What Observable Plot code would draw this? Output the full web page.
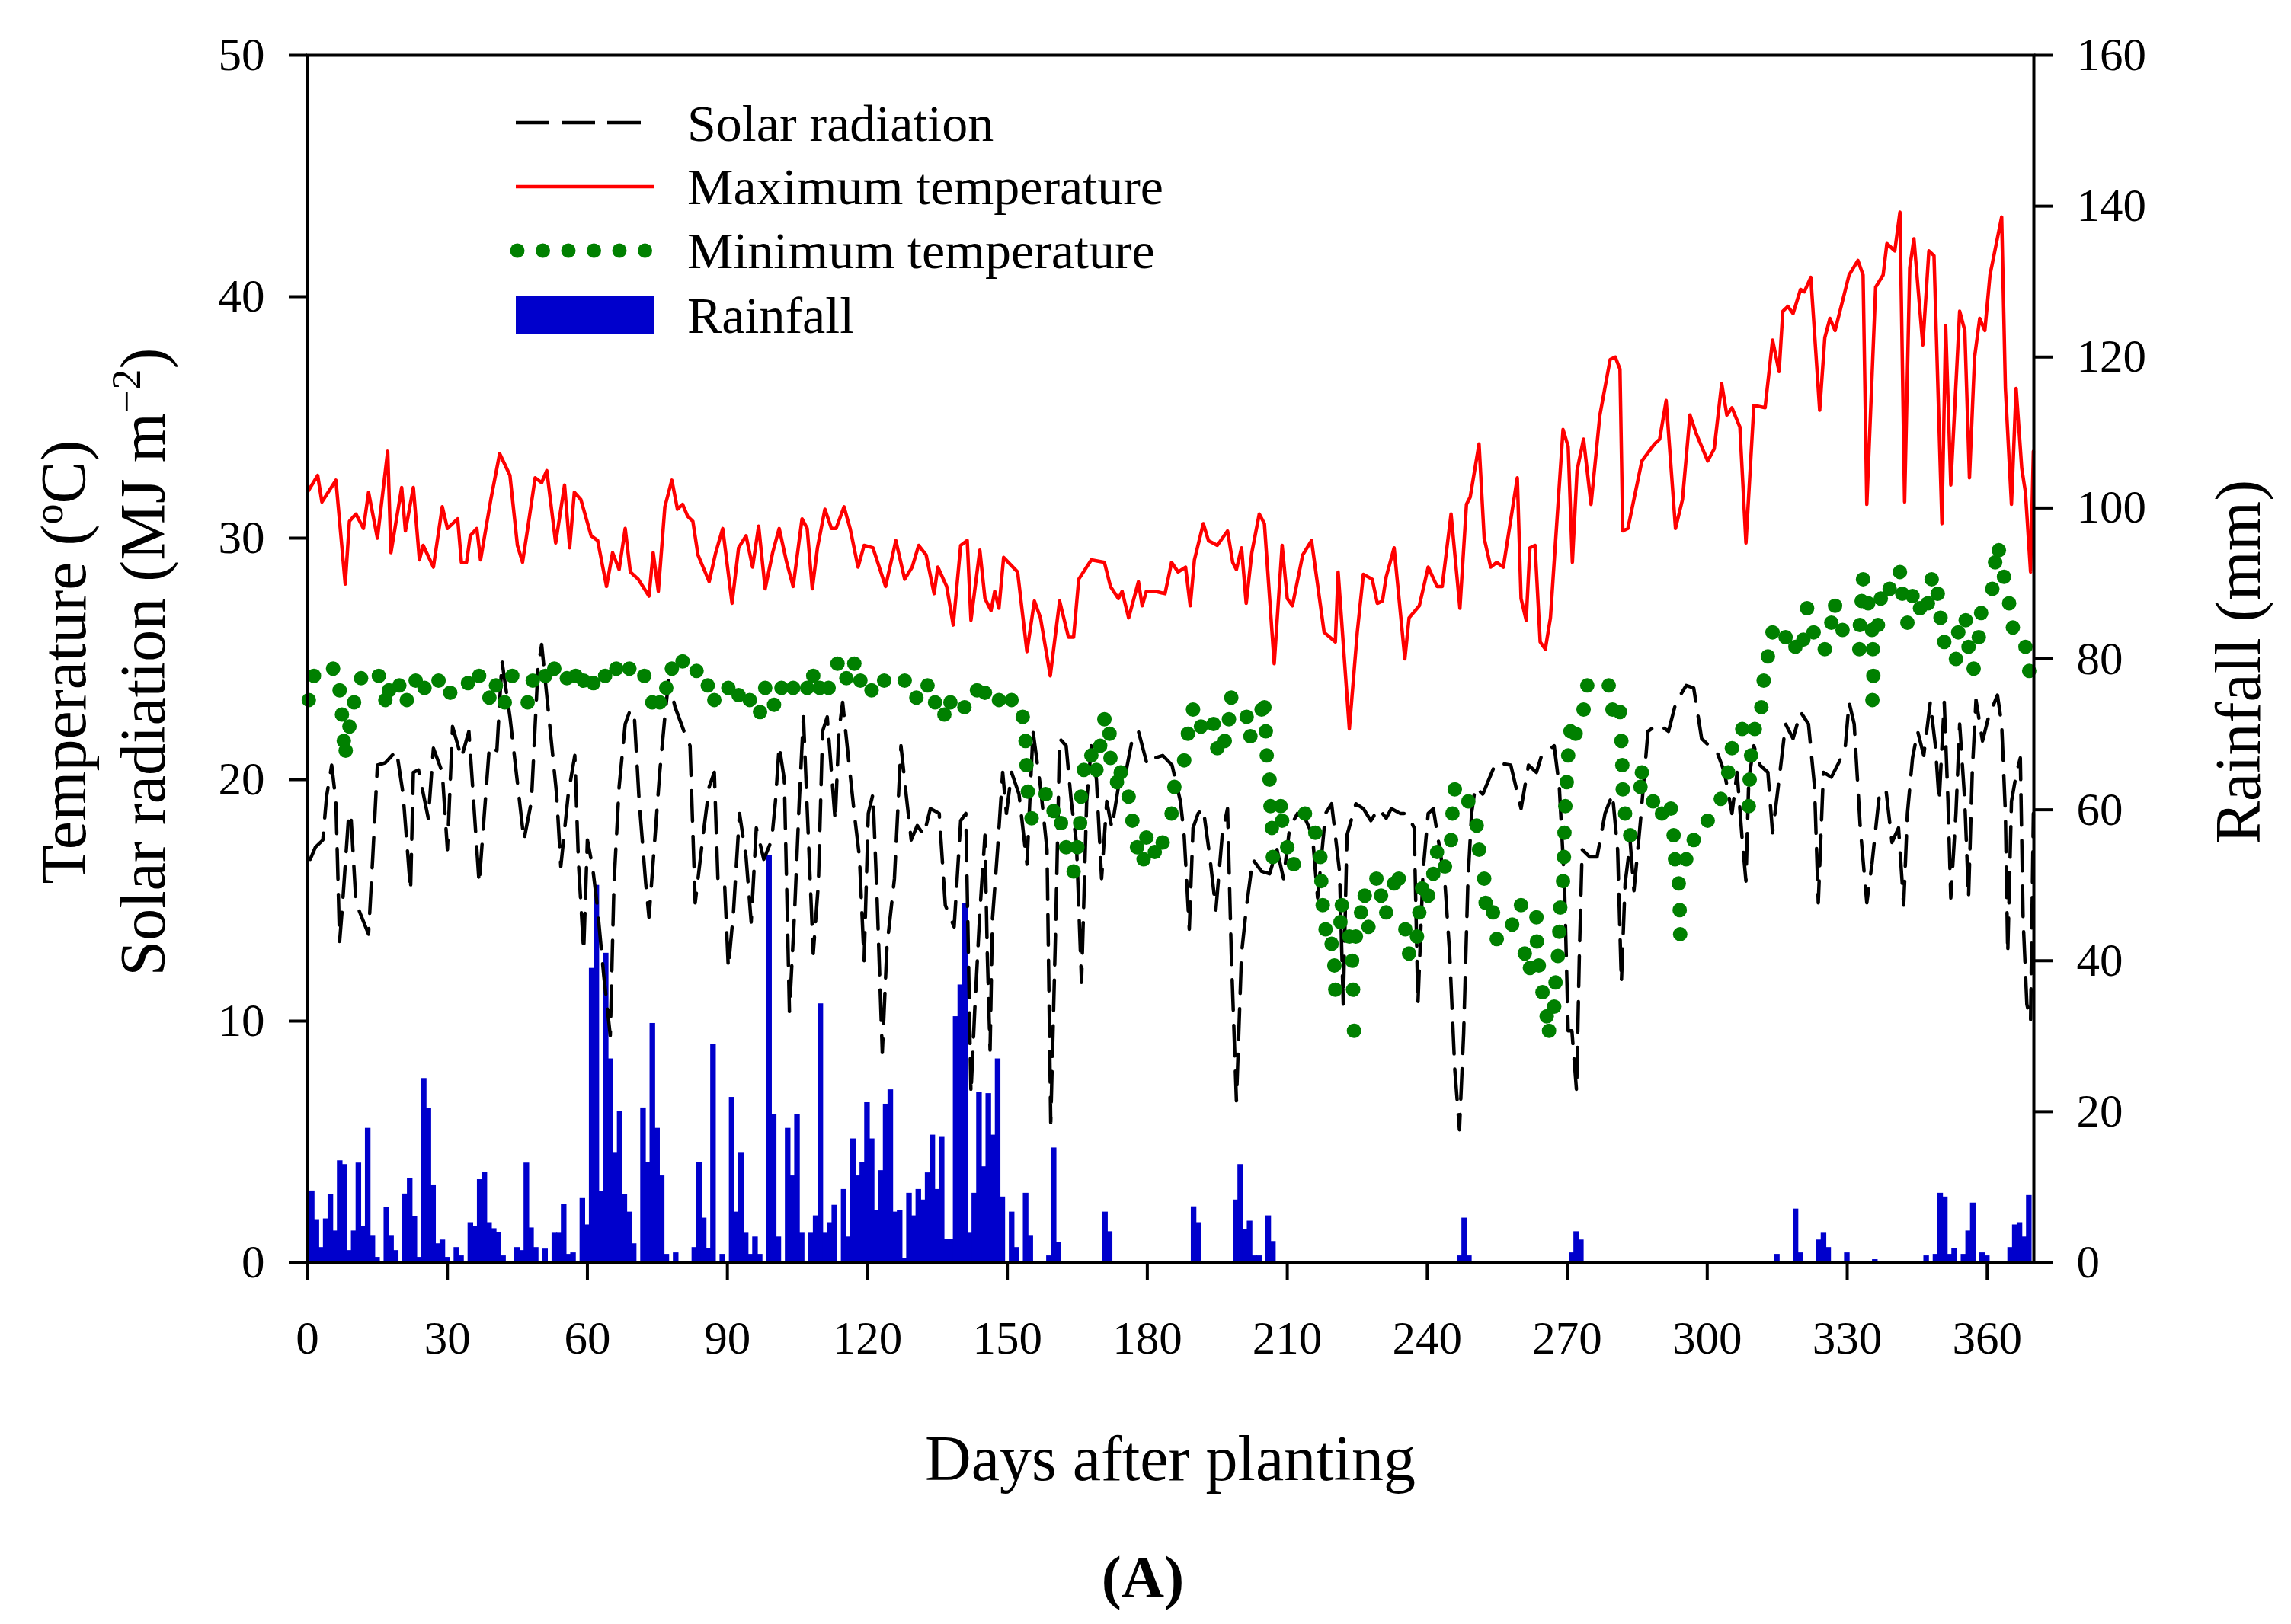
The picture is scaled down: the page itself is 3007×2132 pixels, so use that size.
<!DOCTYPE html>
<html>
<head>
<meta charset="utf-8">
<script src="https://cdn.jsdelivr.net/npm/d3@7"></script>
<script src="https://cdn.jsdelivr.net/npm/@observablehq/plot@0.6"></script>
<style>
  html, body { margin: 0; padding: 0; background: #fff; }
  #chart svg { display: block; }
</style>
</head>
<body>
<div id="chart"></div>
<script>
// ---------- data ----------
const xTicks = [0, 30, 60, 90, 120, 150, 180, 210, 240, 270, 300, 330, 360];
const tempTicks = [0, 10, 20, 30, 40, 50];
const rainTicks = [0, 20, 40, 60, 80, 100, 120, 140, 160];

// [day, °C]
const maxTemp = [[0,31.9],[2.2,32.6],[3.1,31.5],[6.1,32.4],[8.1,28.1],[9,30.7],[10.4,31],[12,30.4],[13.1,31.9],[15,30],[17.2,33.6],[17.9,29.4],[20.2,32.1],[21,30.3],[22.7,32.1],[24,29.1],[24.8,29.7],[27,28.8],[28.9,31.3],[30,30.4],[32.2,30.8],[33,29],[34.1,29],[34.9,30.1],[36.3,30.4],[37.1,29.1],[39.3,31.6],[41.2,33.5],[43.4,32.6],[45,29.7],[46.1,29],[47.2,30.4],[48.8,32.5],[50.2,32.3],[51.3,32.8],[53.2,29.8],[55.1,32.2],[56.2,29.6],[57.2,31.9],[58.6,31.6],[60.8,30.1],[62.2,29.9],[64.1,28],[65.4,29.4],[66.8,28.7],[68.1,30.4],[69.2,28.6],[70.9,28.3],[73.2,27.6],[74.1,29.4],[75.2,27.8],[76.6,31.3],[78.1,32.4],[79.3,31.2],[80.4,31.4],[81.5,30.9],[82.6,30.7],[83.7,29.3],[86.1,28.2],[87.5,29.4],[89,30.4],[91,27.3],[92.4,29.6],[94,30.1],[95.4,28.8],[96.7,30.5],[98.1,27.9],[99.7,29.4],[101.1,30.4],[102.7,29],[104.1,28],[106,30.8],[107.1,30.4],[108.2,27.9],[109.3,29.6],[110.9,31.2],[112.3,30.4],[113.3,30.4],[115,31.3],[116.3,30.4],[118,28.8],[119.3,29.7],[121.2,29.6],[123.9,28],[126.1,29.9],[128,28.3],[129.6,28.8],[131,29.7],[132.6,29.3],[134.3,27.7],[135.1,28.8],[137,28],[138.4,26.4],[140,29.7],[141.4,29.9],[142.2,26.6],[144.1,29.5],[145.2,27.5],[146.5,27],[147.3,27.8],[148.2,27.1],[149.2,29.2],[152.2,28.6],[154.2,25.3],[155.8,27.4],[157.1,26.7],[159.2,24.3],[161.2,27.4],[163.1,25.9],[164.2,25.9],[165.3,28.3],[168,29.1],[170.8,29],[172.1,28],[173.8,27.5],[174.6,27.8],[176,26.7],[178.1,28.2],[178.9,27.2],[179.8,27.8],[181.7,27.8],[183.8,27.7],[185.2,29],[186.6,28.6],[188.2,28.8],[189.2,27.2],[190.1,29.1],[192,30.6],[193.1,29.9],[195,29.7],[197.2,30.3],[198.3,29],[199.1,28.7],[200.2,29.6],[201.2,27.3],[202.4,29.4],[204,31],[205.1,30.6],[207.2,24.8],[208.9,29.7],[210,27.5],[211.1,27.2],[213.3,29.3],[215.2,29.9],[217.9,26.1],[220.3,25.7],[220.9,28.6],[223.3,22.1],[225,26.1],[226.3,28.5],[228.2,28.3],[229.3,27.3],[230.4,27.4],[231.2,28.4],[232.9,29.6],[235.2,25],[236.1,26.7],[238.3,27.2],[240.2,28.8],[242.1,28],[243.2,28],[245.1,31],[247,27.1],[248.4,31.4],[249.2,31.7],[251.1,33.9],[252.2,30],[253.6,28.8],[254.9,29],[256.3,28.8],[259.3,32.5],[260.1,27.5],[261.2,26.6],[262,29.6],[263.1,29.7],[264.2,25.7],[265.3,25.4],[266.4,26.7],[269.1,34.5],[270.2,33.8],[271.1,29],[272.1,32.8],[273.5,34.1],[275.1,31.4],[277,35.1],[279.2,37.4],[280.3,37.5],[281.3,37],[281.9,30.3],[283,30.4],[286,33.2],[288.7,33.9],[289.8,34.1],[291.2,35.7],[293.2,30.4],[294.7,31.6],[296.3,35.1],[297.7,34.3],[300.1,33.2],[301.5,33.7],[303.1,36.4],[304.2,35.1],[305.3,35.4],[307,34.6],[308.3,29.8],[310,35.5],[312.4,35.4],[314,38.2],[315.4,36.9],[316.2,39.4],[317.3,39.6],[318.4,39.3],[320,40.3],[320.8,40.2],[322.2,40.8],[324.1,35.3],[325.2,38.3],[326.3,39.1],[327.4,38.6],[330.4,40.9],[332.3,41.5],[333.4,40.9],[334.2,31.4],[336.1,40.4],[337.7,40.9],[338.5,42.2],[340.2,41.9],[341.3,43.5],[342.3,31.5],[343.4,41.2],[344.3,42.4],[346.2,38],[347.5,41.9],[348.6,41.7],[350.3,30.6],[351.1,38.8],[352.2,32.2],[354.1,39.4],[355.2,38.6],[356.2,32.5],[357.3,37.5],[358.4,39.1],[359.5,38.6],[360.6,40.9],[363.1,43.3],[363.9,36.2],[365.2,31.4],[366.2,36.2],[367.4,32.9],[368.2,31.9],[369.3,28.6],[369.9,33.6]];

// [day, MJ m-2]
const solarRad = [[0.6,16.7],[1.7,17.2],[3.3,17.5],[4.1,19.3],[5.2,20.6],[6.1,19.1],[6.9,13.3],[7.4,14.5],[8.8,18.4],[9.3,18.6],[10.4,14.9],[13.1,13.6],[14,16.8],[15,20.6],[16.7,20.7],[19.1,21.2],[20.5,19.4],[22.1,15.4],[22.7,20.3],[23.8,20.4],[25.9,18.4],[27,21.3],[28.9,20.3],[30,17.1],[31.1,22.2],[33,20.9],[34.6,22],[36.8,15.7],[39,21.4],[40.6,21.2],[41.7,24.9],[43.4,22.6],[46.4,17.5],[48,19.1],[49.4,24.6],[50.2,25.6],[51.8,22.5],[53.4,19.4],[54.3,16.4],[55.9,19.4],[57.3,21],[58.1,16.5],[59.2,12.9],[60,17.5],[61.1,16.4],[62.1,14.8],[63.5,11.9],[64.9,9.4],[65.7,15.7],[66.8,19.7],[68.1,22.3],[69.2,22.9],[70.1,22.5],[71.1,19.1],[72.5,15.7],[73.2,14.3],[74.4,17.4],[75.5,20.3],[76.6,22.6],[77.4,24.1],[78.8,23],[80.7,22],[82,21.4],[83.1,14.9],[84.8,17.7],[86.1,19.7],[87.2,20.3],[88,15.7],[89.4,15.7],[90.2,12.2],[91.3,14.5],[92.6,18.6],[94,16.8],[95.1,14.1],[96.2,18],[97.8,16.7],[99.5,17.5],[100.3,19.1],[101.1,21.4],[102.2,20],[103.3,10.4],[104.4,14.5],[105.4,19.1],[106.3,22.6],[107.1,18.8],[108.4,12.8],[109.5,15.7],[110.4,22],[111.4,22.6],[113.1,18.3],[113.9,22],[114.7,23.2],[116.1,20.6],[117.2,18.6],[118.3,16.8],[119.3,12.5],[120.2,18.6],[121.2,19.4],[122.1,15],[123.2,8.7],[124.2,13.1],[125.8,15.9],[127.2,21.4],[128.3,19.4],[129.4,17.5],[130.7,18.1],[132.1,17.7],[133.5,18.8],[135.4,18.6],[136.7,14.8],[138.6,13.9],[140,18.3],[141.1,18.6],[142.2,7],[143,10.4],[144.1,14.5],[145.2,17.7],[145.7,12.8],[146.3,8.8],[146.8,14.2],[147.9,17.1],[149,20.3],[149.8,18.6],[150.9,20.3],[152.5,19.4],[154.2,16.5],[155.5,22],[157.1,19.7],[158.5,17.1],[159.3,5.8],[160.4,14.2],[161.2,21.7],[162.6,21.4],[163.7,19.1],[164.8,17.4],[165.9,11.6],[167,19.1],[168,21.4],[169.1,20],[170.2,15.9],[171.3,19.1],[172.4,18],[173.8,19.7],[175.1,20],[176.8,21.7],[178.1,22],[180,20.6],[181.7,20.9],[183.3,21],[185.3,20.6],[187.1,19.1],[187.9,17.7],[189,13.8],[189.8,18],[190.9,18.6],[192,18.8],[193.4,16.8],[194.7,14.6],[196.1,17.8],[197.2,18.8],[198,12.8],[199.1,6.7],[200.2,12.8],[201.3,14.8],[202.6,16.7],[204.5,16.2],[206.2,16.1],[207.8,17.1],[209.2,15.9],[210.5,18],[212.2,18.6],[213.8,18.4],[215.4,17.7],[216.5,15.1],[218.2,18.6],[219.5,19],[221.2,16.2],[222,10.7],[222.8,17.7],[224.7,19],[226.3,18.8],[227.9,18.3],[229.6,18.8],[231.2,18.4],[232.3,18.8],[234.2,18.6],[235.6,18.6],[237.2,18],[238,10.7],[239.1,16.2],[240.2,18.6],[241.3,18.8],[242.7,17.1],[243.8,15.7],[244.8,12.8],[245.9,8],[246.9,5.5],[247.8,9.5],[248.7,15.7],[249.5,18.6],[250.3,19.7],[251.9,19.4],[254.7,20.7],[257.9,20.6],[260.1,18.8],[261.7,20.6],[263.4,20.3],[264.5,21],[267.2,21.4],[268.3,19.7],[269.4,15.7],[270.2,9.6],[271,9.6],[272,7.1],[272.6,12.8],[273.2,17.1],[274.8,16.8],[276.4,16.8],[278.1,18.6],[279.7,19.4],[280.8,17.1],[281.6,11.6],[282.4,15.7],[283.5,17.4],[284.3,15.4],[285.7,18.3],[287.3,22],[289.5,22.3],[291.7,22],[293.3,23.2],[295.5,23.9],[297.1,23.8],[298.8,21.7],[300.4,21.4],[302,21.2],[303.7,20.3],[305.3,18.6],[306.4,20.3],[307.5,17.5],[308.3,15.8],[308.9,20],[310,21.4],[311.3,20.6],[313,20.3],[314,17.8],[315.4,20],[316.8,22.3],[318.4,21.7],[320,22.8],[321.7,22.3],[323,19.7],[323.8,14.9],[324.9,20.3],[326.6,20.1],[328.2,20.7],[329.6,21.4],[330.4,23.2],[331.5,22.3],[332.8,18],[334.2,14.9],[335.3,16.5],[336.9,19.4],[338.3,19.6],[339.6,17.4],[341,18],[342.1,14.8],[342.9,18.6],[344,20.9],[345.1,22],[346.4,21],[347.8,23.2],[348.9,21.4],[349.7,19.1],[350.8,23.2],[351.6,19.1],[352.2,15.1],[353.3,18.6],[354.1,22.3],[355.2,19.1],[356,15.1],[356.8,20.3],[357.6,23.3],[359,21.6],[360.3,22.6],[362.2,23.5],[363.1,22.3],[363.9,18.6],[364.4,12.8],[365.2,19.1],[366.3,20.3],[367.1,20.9],[367.7,14.2],[368.5,10.7],[369.3,10],[369.9,18.6]];

// [day, °C]
const minTemp = [[0.3,23.3],[1.4,24.3],[5.5,24.6],[6.9,23.7],[7.4,22.7],[7.8,21.6],[8.2,21.2],[9,22.2],[10,23.2],[11.5,24.2],[15.3,24.3],[16.7,23.3],[17.5,23.7],[19.7,23.9],[21.3,23.3],[23.2,24.1],[25.1,23.8],[28.1,24.1],[30.6,23.6],[34.4,24],[36.8,24.3],[39,23.4],[40.4,23.9],[42.3,23.2],[43.9,24.3],[47.2,23.2],[48.3,24.1],[51,24.3],[52.9,24.6],[55.6,24.2],[57.5,24.3],[59.2,24.1],[61.3,24],[63.8,24.3],[66.2,24.6],[69,24.6],[72.2,24.3],[73.9,23.2],[75.5,23.2],[76.9,23.8],[78.1,24.6],[80.4,24.9],[83.4,24.5],[85.8,23.9],[87.2,23.3],[90.2,23.8],[92.4,23.5],[94.8,23.3],[97,22.8],[98.1,23.8],[100,23.1],[101.6,23.8],[104.1,23.8],[107.1,23.8],[108.4,24.3],[109.8,23.8],[111.7,23.8],[113.6,24.8],[115.5,24.2],[117.2,24.8],[118.5,24.1],[120.9,23.7],[123.6,24.1],[128,24.1],[130.5,23.4],[132.9,23.9],[134.5,23.2],[136.5,22.7],[137.8,23.2],[140.8,23],[143.5,23.7],[145.2,23.6],[148.2,23.3],[150.9,23.3],[153.3,22.6],[153.9,21.6],[154.1,20.6],[154.4,19.5],[155.2,18.4],[158.2,19.4],[159.9,18.7],[161.5,18.2],[162.6,17.2],[164.2,16.2],[165,17.2],[165.6,18.2],[165.8,19.3],[166.4,20.4],[168,21],[169.1,20.4],[169.9,21.4],[170.8,22.5],[171.9,21.9],[172.1,20.9],[173.5,19.9],[174.3,20.3],[176,19.3],[176.8,18.3],[177.8,17.2],[179.2,16.7],[179.8,17.6],[181.6,17],[183.3,17.4],[185.2,18.6],[185.8,19.7],[187.9,20.8],[188.7,21.9],[189.8,22.9],[191.5,22.2],[194.2,22.3],[195,21.3],[196.6,21.6],[197.5,22.5],[198,23.4],[201.3,22.6],[202.1,21.8],[204.5,22.9],[205.1,23],[205.4,22],[205.6,21],[206.2,20],[206.4,18.9],[206.7,18],[206.9,16.8],[208.6,18.9],[208.9,18.3],[210,17.2],[211.4,16.5],[213.8,18.6],[216,17.8],[217.1,16.8],[217.3,15.8],[217.6,14.8],[218.2,13.8],[219.5,13.2],[220.1,12.3],[220.3,11.3],[221.4,14.1],[221.7,14.8],[223.3,13.5],[223.9,12.5],[224.1,11.3],[224.3,9.6],[224.7,13.5],[225.8,14.5],[226.6,15.2],[227.4,13.9],[229.1,15.9],[230.1,15.2],[231.2,14.5],[232.9,15.7],[233.9,15.9],[235.3,13.8],[236.1,12.8],[237.8,13.5],[238.3,14.5],[238.9,15.5],[240.2,15.2],[241.3,16.1],[242.1,17],[243.8,16.4],[245.1,17.5],[245.4,18.6],[245.9,19.6],[248.8,19.1],[250.6,18.1],[251.1,17.1],[252.2,15.9],[252.5,14.9],[254.1,14.5],[254.9,13.4],[258.2,14],[260.1,14.8],[260.9,12.8],[262,12.2],[263.4,14.3],[263.5,13.3],[263.9,12.3],[264.7,11.2],[265.6,10.2],[266.1,9.6],[267.2,10.6],[267.5,11.6],[268,12.7],[268.3,13.7],[268.5,14.7],[269.1,15.8],[269.3,16.8],[269.4,17.8],[269.6,18.9],[269.9,19.9],[270.2,21],[270.7,22],[271.8,21.9],[273.5,22.9],[274.3,23.9],[278.9,23.9],[279.7,22.9],[281.3,22.8],[281.6,21.6],[281.8,20.6],[281.9,19.6],[282.4,18.6],[283.5,17.7],[285.7,19.7],[286,20.3],[288.4,19.1],[290.3,18.6],[292.2,18.8],[292.8,17.7],[293.1,16.7],[293.9,15.7],[294.1,14.6],[294.2,13.6],[295.5,16.7],[297.1,17.5],[300.1,18.3],[302.9,19.2],[304.5,20.3],[305.3,21.3],[307.5,22.1],[308.9,18.9],[309.1,20],[309.4,21],[310.2,22.1],[311.6,23],[312.1,24.1],[313,25.1],[314,26.1],[316.8,25.9],[318.9,25.5],[320.6,25.8],[321.4,27.1],[322.8,26.1],[325.2,25.4],[326.6,26.5],[327.4,27.2],[329,26.2],[332.6,25.4],[332.7,26.4],[333.1,27.4],[333.4,28.3],[334.5,27.3],[335.3,26.2],[335.5,25.4],[335.6,24.3],[335.4,23.3],[336.6,26.4],[337.2,27.5],[339.1,27.9],[341.3,28.6],[341.8,27.7],[342.9,26.5],[344,27.6],[345.6,27.1],[347.3,27.3],[348.1,28.3],[349.4,27.7],[350,26.7],[350.8,25.7],[353.3,25],[353.8,26.1],[355.4,26.6],[356,25.5],[357.1,24.6],[358.2,25.9],[358.7,26.9],[361.1,27.9],[361.7,29],[362.5,29.5],[363.6,28.4],[364.7,27.3],[365.5,26.3],[368.2,25.5],[369,24.5]];

// [day, mm]
const rainfall = [[1,9.5],[2,5.7],[3,2],[4,5.8],[5,9],[6,4.2],[7,13.5],[8,13],[9,1.6],[10,4.2],[11,13.2],[12,4.8],[13,17.8],[14,3.6],[15,0.7],[17,7.3],[18,3.6],[19,1.6],[21,9.1],[22,11.2],[23,6.1],[24,0.7],[25,24.4],[26,20.4],[27,10.2],[28,2.5],[29,3],[30,0.7],[32,2],[33,0.9],[35,5.3],[36,4.8],[37,11],[38,12],[39,5.3],[40,4.5],[41,4],[42,0.9],[45,2],[46,1.6],[47,13.2],[48,4.6],[49,2],[51,1.8],[53,3.9],[54,3.9],[55,7.7],[56,1.1],[57,1.3],[59,8.5],[60,5],[61,39],[62,50],[63,9.4],[64,41],[65,27],[66,14.5],[67,20],[68,9],[69,6.7],[70,2.5],[72,20.5],[73,13.3],[74,31.7],[75,17.8],[76,11.5],[77,1.1],[79,1.3],[83,2],[84,13.3],[85,5.9],[86,1.9],[87,28.9],[89,1.1],[91,21.9],[92,6.7],[93,14.5],[94,3.9],[95,1.1],[96,3.4],[97,1.1],[99,54],[100,19.6],[101,3.4],[103,17.8],[104,11.5],[105,19.6],[106,3.9],[108,3.9],[109,6.2],[110,34.3],[111,3.9],[112,5.3],[113,7.6],[115,9.7],[116,3.4],[117,16.4],[118,11.5],[119,13.3],[120,21.2],[121,16.4],[122,6.9],[123,12.2],[124,21],[125,22.9],[126,6.7],[127,6.9],[128,0.6],[129,9.2],[130,6.2],[131,9.7],[132,8.3],[133,11.9],[134,16.9],[135,9.7],[136,16.6],[137,3.1],[138,3.1],[139,32.6],[140,36.8],[141,47.6],[142,3.9],[143,9.2],[144,22.6],[145,12.7],[146,22.4],[147,16.9],[148,27],[149,8.7],[151,6.7],[152,2],[154,9.2],[155,3.6],[159,0.9],[160,15.2],[161,2.7],[171,6.7],[172,4.1],[190,7.4],[191,5.3],[199,8.3],[200,13],[201,4.4],[202,5.5],[203,0.9],[204,0.9],[206,6.2],[207,2.8],[247,0.9],[248,5.9],[249,0.9],[271,1.3],[272,4.1],[273,3],[315,1.1],[319,7.1],[320,1.3],[324,3],[325,3.9],[326,2],[330,1.3],[336,0.4],[347,0.9],[349,1.1],[350,9.2],[351,8.7],[352,1.1],[353,1.9],[355,1.1],[356,4.2],[357,7.9],[359,1.3],[360,0.9],[365,2],[366,5],[367,5.3],[368,3.4],[369,8.9]];

// rainfall (0–160 mm) shares the frame with the 0–50 left axis
const RAIN_TO_Y = 50 / 160;

const FONT = "'Liberation Serif', 'Times New Roman', serif";

const chart = Plot.plot({
  width: 3007,
  height: 2132,
  marginLeft: 403,
  marginRight: 338,
  marginTop: 72,
  marginBottom: 475,
  x: {domain: [0, 370]},
  y: {domain: [0, 50]},
  style: {fontFamily: FONT, fontSize: "61px", color: "black", background: "white", overflow: "visible"},
  marks: [
    Plot.rect(rainfall, {x1: d => d[0] - 0.5, x2: d => d[0] + 0.5, y1: 0, y2: d => d[1] * RAIN_TO_Y,
      fill: "#0000cc", insetLeft: -0.6, insetRight: -0.6}),
    Plot.line(solarRad, {x: d => d[0], y: d => d[1], stroke: "black", strokeWidth: 4.5, strokeDasharray: "40,20"}),
    Plot.line(maxTemp, {x: d => d[0], y: d => d[1], stroke: "#ff0000", strokeWidth: 4.5}),
    Plot.dot(minTemp, {x: d => d[0], y: d => d[1], r: 9.5, fill: "#008000"}),
    Plot.frame({stroke: "black", strokeWidth: 4}),
    Plot.axisX(xTicks, {anchor: "bottom", tickSize: 24, tickPadding: 52, fontSize: 61, strokeWidth: 4, label: null}),
    Plot.axisY(tempTicks, {anchor: "left", tickSize: 24, tickPadding: 32, fontSize: 61, strokeWidth: 4, label: null}),
    Plot.axisY(rainTicks.map(m => m * RAIN_TO_Y), {anchor: "right", tickSize: 24, tickPadding: 32, fontSize: 61, strokeWidth: 4, label: null,
      tickFormat: v => String(Math.round(v / RAIN_TO_Y))})
  ]
});

document.getElementById("chart").appendChild(chart);

// ---------- titles and legend ----------
const svg = d3.select(chart);
const g = svg.append("g").attr("font-family", FONT).attr("fill", "black");

// x title
g.append("text").attr("x", 1536).attr("y", 1943).attr("text-anchor", "middle")
  .attr("font-size", 84).text("Days after planting");
// panel label
g.append("text").attr("x", 1500).attr("y", 2097).attr("text-anchor", "middle")
  .attr("font-size", 78).attr("font-weight", "bold").text("(A)");

// left titles (two lines)
const t1 = g.append("text").attr("transform", "translate(112,869) rotate(-90)")
  .attr("text-anchor", "middle").attr("font-size", 84);
t1.append("tspan").text("Temperature (");
t1.append("tspan").attr("dy", -30).attr("font-size", 54).text("o");
t1.append("tspan").attr("dy", 30).text("C)");

const t2 = g.append("text").attr("transform", "translate(216,869) rotate(-90)")
  .attr("text-anchor", "middle").attr("font-size", 84);
t2.append("tspan").text("Solar radiation (MJ m");
t2.append("tspan").attr("dy", -32).attr("font-size", 54).text("\u22122");
t2.append("tspan").attr("dy", 32).text(")");

// right title
g.append("text").attr("transform", "translate(2966,869) rotate(-90)")
  .attr("text-anchor", "middle").attr("font-size", 84).text("Rainfall (mm)");

// legend
const legendItems = ["Solar radiation", "Maximum temperature", "Minimum temperature", "Rainfall"];
const legY = [161, 245, 329, 413];
const leg = g.append("g");
leg.append("line").attr("x1", 677).attr("x2", 842).attr("y1", legY[0]).attr("y2", legY[0])
  .attr("stroke", "black").attr("stroke-width", 4.5).attr("stroke-dasharray", "44,16");
leg.append("line").attr("x1", 677).attr("x2", 858).attr("y1", legY[1]).attr("y2", legY[1])
  .attr("stroke", "#ff0000").attr("stroke-width", 4.5);
for (let i = 0; i < 6; i++) {
  leg.append("circle").attr("cx", 679 + i * 33.5).attr("cy", legY[2]).attr("r", 9.5).attr("fill", "#008000");
}
leg.append("rect").attr("x", 677).attr("y", 388).attr("width", 181).attr("height", 50).attr("fill", "#0000cc");
const baselines = [185, 268, 352, 437];
legendItems.forEach((t, i) => {
  leg.append("text").attr("x", 902).attr("y", baselines[i]).attr("text-anchor", "start")
    .attr("font-size", 68).text(t);
});
</script>
</body>
</html>
